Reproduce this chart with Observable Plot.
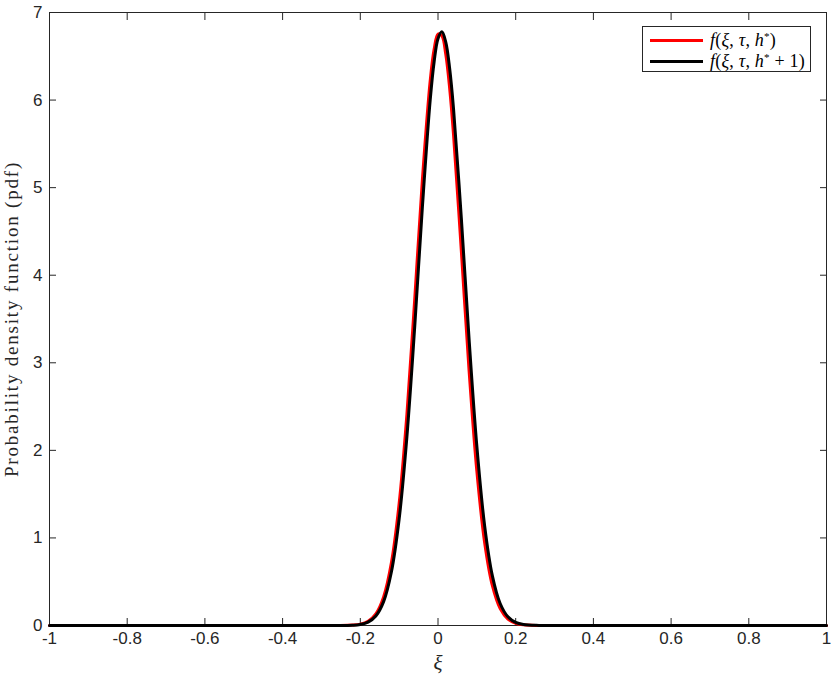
<!DOCTYPE html>
<html>
<head>
<meta charset="utf-8">
<script src="https://cdn.jsdelivr.net/npm/d3@7"></script>
<script src="https://cdn.jsdelivr.net/npm/@observablehq/plot@0.6"></script>
<style>
  html, body { margin: 0; padding: 0; background: #fff; }
  #wrap { position: relative; width: 831px; height: 684px; }
  g[aria-label="x-axis label"] text { font-family: "Liberation Serif", "DejaVu Serif", serif; font-style: italic; font-size: 21px; fill: #262626; }
  g[aria-label="y-axis label"] text { font-family: "Liberation Serif", "DejaVu Serif", serif; font-size: 19px; letter-spacing: 1.8px; fill: #262626; }
  #legend { position: absolute; left: 642px; top: 26px; width: 169px; height: 46px; border: 1px solid #262626; background: #fff; box-sizing: border-box;
    font-family: "Liberation Serif", "DejaVu Serif", serif; font-size: 18px; letter-spacing: 0.2px; color: #000; }
  #legend .row { position: absolute; left: 0; height: 20px; display: flex; align-items: center; white-space: nowrap; }
  #legend .sw { width: 53px; height: 3px; margin-left: 7px; margin-right: 7px; }
  #legend i { font-style: italic; }
  #legend sup { font-size: 11px; vertical-align: 6px; line-height: 0; }
</style>
</head>
<body>
<div id="wrap"></div>
<script>
// Values
const xiRed = [-1, -0.4, -0.3, -0.26, -0.22, -0.2, -0.18, -0.16, -0.14, -0.12, -0.1, -0.08, -0.06, -0.04, -0.02, -0.01, 0, 0.01, 0.02, 0.03, 0.04, 0.06, 0.08, 0.1, 0.12, 0.14, 0.16, 0.18, 0.2, 0.22, 0.26, 0.3, 0.4, 1];
const pdfRed = [0, 0, 0, 0.0003, 0.0044, 0.0155, 0.048, 0.133, 0.327, 0.716, 1.394, 2.415, 3.722, 5.102, 6.224, 6.579, 6.754, 6.734, 6.522, 6.134, 5.602, 4.281, 2.911, 1.762, 0.948, 0.454, 0.193, 0.0733, 0.0247, 0.0074, 0.0005, 0, 0, 0];

const xiBlack = [-1, -0.4, -0.3, -0.26, -0.22, -0.2, -0.18, -0.16, -0.14, -0.12, -0.1, -0.08, -0.06, -0.04, -0.02, -0.01, 0, 0.01, 0.02, 0.03, 0.04, 0.06, 0.08, 0.1, 0.12, 0.14, 0.16, 0.18, 0.2, 0.22, 0.26, 0.3, 0.4, 1];
const pdfBlack = [0, 0, 0, 0.0002, 0.0035, 0.0122, 0.0387, 0.109, 0.273, 0.611, 1.216, 2.157, 3.406, 4.791, 6.004, 6.435, 6.701, 6.78, 6.663, 6.361, 5.900, 4.654, 3.271, 2.047, 1.141, 0.567, 0.251, 0.0988, 0.0347, 0.0108, 0.0008, 0, 0, 0];

const seriesNames = ["f(ξ, τ, h*)", "f(ξ, τ, h* + 1)"];
const seriesColors = ["#ff0000", "#000000"];

const xTicks = [-1, -0.8, -0.6, -0.4, -0.2, 0, 0.2, 0.4, 0.6, 0.8, 1];
const yTicks = [0, 1, 2, 3, 4, 5, 6, 7];

const xLabel = "ξ";
const yLabel = "Probability density function (pdf)";

const red = xiRed.map((x, i) => ({x, y: pdfRed[i]}));
const black = xiBlack.map((x, i) => ({x, y: pdfBlack[i]}));

const fmt = d => String(+(+d).toFixed(1));
const axisColor = "#262626";

const chart = Plot.plot({
  width: 831,
  height: 684,
  marginLeft: 49,
  marginRight: 5,
  marginTop: 12,
  marginBottom: 59,
  style: { fontFamily: "'Liberation Sans', Arial, sans-serif", fontSize: "17px", color: axisColor, background: "#fff" },
  x: { domain: [-1, 1] },
  y: { domain: [0, 7] },
  marks: [
    Plot.axisX({ anchor: "bottom", ticks: xTicks, tickSize: -7, tickPadding: 13, tickFormat: fmt, label: xLabel, labelAnchor: "center", labelArrow: "none", labelOffset: 44, stroke: axisColor }),
    Plot.axisX({ anchor: "top", ticks: xTicks, tickSize: -7, tickFormat: () => "", label: null, stroke: axisColor }),
    Plot.axisY({ anchor: "left", ticks: yTicks, tickSize: -7, tickPadding: 14, tickFormat: fmt, label: yLabel, labelAnchor: "center", labelArrow: "none", labelOffset: 45, stroke: axisColor }),
    Plot.axisY({ anchor: "right", ticks: yTicks, tickSize: -7, tickFormat: () => "", label: null, stroke: axisColor }),
    Plot.frame({ stroke: axisColor, strokeWidth: 1 }),
    Plot.line(red, { x: "x", y: "y", stroke: seriesColors[0], strokeWidth: 3, curve: "catmull-rom" }),
    Plot.line(black, { x: "x", y: "y", stroke: seriesColors[1], strokeWidth: 3, curve: "catmull-rom" })
  ]
});
const wrap = document.getElementById("wrap");
wrap.appendChild(chart);

// Legend
const legend = document.createElement("div");
legend.id = "legend";
const mathHTML = [
  '<i>f</i>(<i>ξ</i>, <i>τ</i>, <i>h</i><sup>*</sup>)',
  '<i>f</i>(<i>ξ</i>, <i>τ</i>, <i>h</i><sup>*</sup> + 1)'
];
seriesNames.forEach((name, i) => {
  const row = document.createElement("div");
  row.className = "row";
  row.style.top = (i === 0 ? 3 : 24) + "px";
  row.title = name;
  row.innerHTML = `<span class="sw" style="background:${seriesColors[i]}"></span><span>${mathHTML[i]}</span>`;
  legend.appendChild(row);
});
wrap.appendChild(legend);
</script>
</body>
</html>
